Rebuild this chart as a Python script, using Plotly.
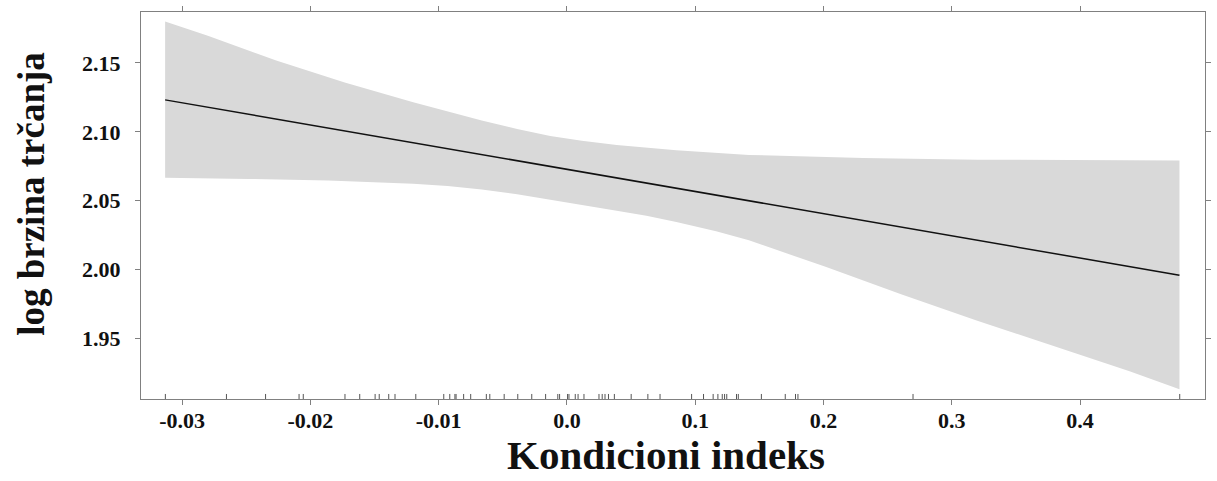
import plotly.graph_objects as go

# 신뢰대 상단 (Kondicioni indeks 축 좌표)
upper_x = [-0.3132, -0.2799, -0.2266, -0.1732, -0.1198, -0.0664, -0.0388,
           -0.0130, 0.0116, 0.0388, 0.0853, 0.1419, 0.2310, 0.3199, 0.4775]
upper_y = [2.1801, 2.1698, 2.1517, 2.1359, 2.1215, 2.1082, 2.1020,
           2.0970, 2.0935, 2.0905, 2.0866, 2.0832, 2.0810, 2.0798, 2.0792]

# 신뢰대 하단
lower_x = [-0.3132, -0.2481, -0.1860, -0.1198, -0.0930, -0.0664, -0.0388,
           -0.0130, 0.0116, 0.0388, 0.0620, 0.0853, 0.1163, 0.1419, 0.2016,
           0.2605, 0.3199, 0.3791, 0.4386, 0.4775]
lower_y = [2.0667, 2.0658, 2.0647, 2.0623, 2.0607, 2.0582, 2.0546,
           2.0506, 2.0470, 2.0426, 2.0390, 2.0346, 2.0278, 2.0212, 2.0020,
           1.9821, 1.9629, 1.9444, 1.9262, 1.9130]

# 적합선
fit_x = [-0.3132, -0.2, -0.1, 0.0, 0.1, 0.2, 0.3, 0.4, 0.4775]
fit_y = [2.1232, 2.1050, 2.0889, 2.0728, 2.0567, 2.0406, 2.0245, 2.0084, 1.9959]

# 러그 (관측치 위치)
rug_x = [-0.3130, -0.2654, -0.2349, -0.2088, -0.2055, -0.1730, -0.1615,
         -0.1495, -0.1463, -0.1389, -0.1340, -0.1178, -0.0960, -0.0913,
         -0.0873, -0.0864, -0.0805, -0.0750, -0.0628, -0.0601, -0.0489,
         -0.0383, -0.0274, -0.0166, -0.0071, -0.0057, 0.0005, 0.0016,
         0.0065, 0.0087, 0.0133, 0.0250, 0.0275, 0.0297, 0.0324, 0.0370,
         0.0501, 0.0631, 0.0726, 0.0972, 0.1065, 0.1140, 0.1177, 0.1211,
         0.1229, 0.1246, 0.1322, 0.1336, 0.1516, 0.1702, 0.1782, 0.1801,
         0.2698, 0.4777]

x_tickvals = [-0.3, -0.2, -0.1, 0.0, 0.1, 0.2, 0.3, 0.4]
x_ticktext = ["-0.03", "-0.02", "-0.01", "0.0", "0.1", "0.2", "0.3", "0.4"]
y_tickvals = [1.95, 2.00, 2.05, 2.10, 2.15]
y_ticktext = ["1.95", "2.00", "2.05", "2.10", "2.15"]

FONT = "Liberation Serif"
AXIS_COLOR = "#808080"
TEXT_COLOR = "#111111"

fig = go.Figure()

fig.add_trace(go.Scatter(
    x=upper_x + lower_x[::-1],
    y=upper_y + lower_y[::-1],
    fill="toself",
    fillcolor="#d9d9d9",
    line=dict(width=0),
    mode="lines",
    hoverinfo="skip",
    showlegend=False,
))

fig.add_trace(go.Scatter(
    x=fit_x, y=fit_y,
    mode="lines",
    line=dict(color=TEXT_COLOR, width=1.5),
    showlegend=False,
))

rug_xs, rug_ys = [], []
for rx in rug_x:
    rug_xs += [rx, rx, None]
    rug_ys += [0, 0.013, None]
fig.add_trace(go.Scatter(
    x=rug_xs, y=rug_ys,
    yaxis="y2",
    mode="lines",
    line=dict(color="#555555", width=1),
    hoverinfo="skip",
    showlegend=False,
))

axis_common = dict(
    showline=True, linecolor=AXIS_COLOR, linewidth=1, mirror="ticks",
    ticks="outside", ticklen=5, tickcolor=AXIS_COLOR, tickwidth=1,
    showgrid=False, zeroline=False,
    tickfont=dict(family=FONT, size=22, color=TEXT_COLOR, weight="bold"),
)

fig.update_layout(
    width=1217, height=481,
    margin=dict(l=141, r=6, t=11, b=82),
    plot_bgcolor="white",
    paper_bgcolor="white",
    font=dict(family=FONT, color=TEXT_COLOR),
    xaxis=dict(
        **axis_common,
        range=[-0.332, 0.4974],
        tickvals=x_tickvals, ticktext=x_ticktext,
        ticklabelstandoff=-3,
    ),
    yaxis=dict(
        **axis_common,
        range=[1.906, 2.187],
        tickvals=y_tickvals, ticktext=y_ticktext,
        ticklabelstandoff=10,
    ),
    yaxis2=dict(overlaying="y", range=[0, 1], visible=False, fixedrange=True),
    annotations=[
        dict(text="<b>Kondicioni indeks</b>", xref="paper", yref="paper",
             x=0.4937, y=-0.2085, xanchor="center", yanchor="bottom",
             showarrow=False, font=dict(family=FONT, size=41, color=TEXT_COLOR)),
        dict(text="<b>log brzina trčanja</b>", xref="paper", yref="paper",
             x=-0.1025, y=0.530, xanchor="center", yanchor="middle",
             textangle=-90, showarrow=False,
             font=dict(family=FONT, size=37, color=TEXT_COLOR)),
    ],
)

# 페이지 기본 body 여백 제거 (1217x481 창에 딱 맞게)
fig.write_html("out.html", config={"displayModeBar": False},
               post_script="document.body.style.margin = '0';")
